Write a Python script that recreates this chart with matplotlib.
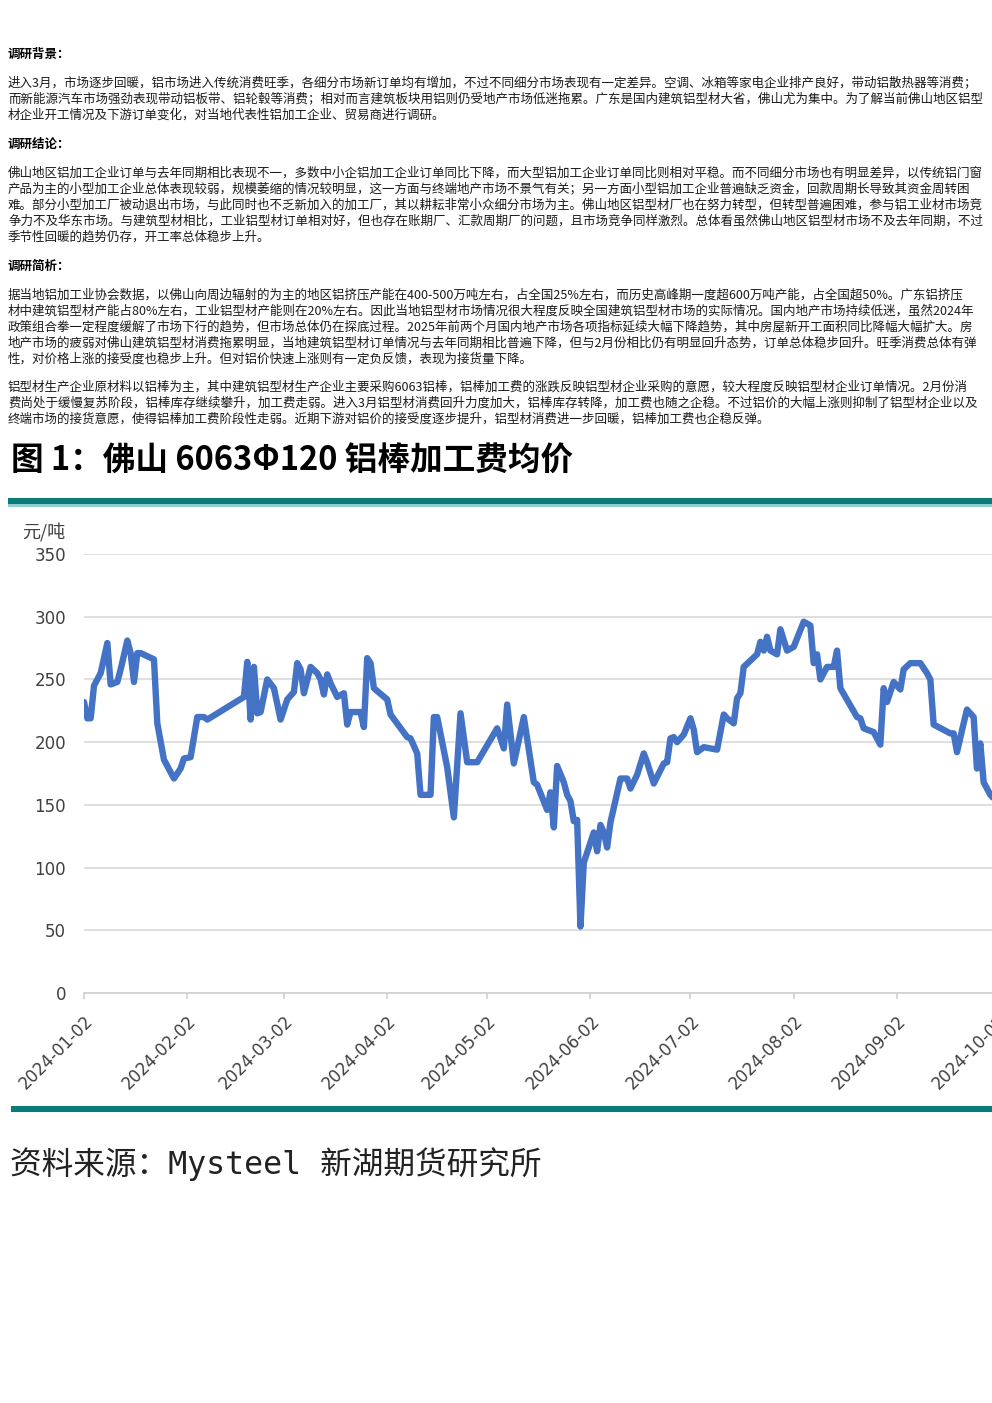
import datetime as dt
import matplotlib
matplotlib.use("Agg")
import matplotlib.pyplot as plt
import matplotlib.dates as mdates
from matplotlib.patches import Rectangle

plt.rcParams['font.family'] = ['Noto Sans CJK SC', 'DejaVu Sans']

W, H = 992, 1403

# page text
heading_bg = "调研背景："
text_bg = [
    "进入3月，市场逐步回暖，铝市场进入传统消费旺季，各细分市场新订单均有增加，不过不同细分市场表现有一定差异。空调、冰箱等家电企业排产良好，带动铝散热器等消费；",
    "而新能源汽车市场强劲表现带动铝板带、铝轮毂等消费；相对而言建筑板块用铝则仍受地产市场低迷拖累。广东是国内建筑铝型材大省，佛山尤为集中。为了解当前佛山地区铝型",
    "材企业开工情况及下游订单变化，对当地代表性铝加工企业、贸易商进行调研。",
]
heading_concl = "调研结论："
text_concl = [
    "佛山地区铝加工企业订单与去年同期相比表现不一，多数中小企铝加工企业订单同比下降，而大型铝加工企业订单同比则相对平稳。而不同细分市场也有明显差异，以传统铝门窗",
    "产品为主的小型加工企业总体表现较弱，规模萎缩的情况较明显，这一方面与终端地产市场不景气有关；另一方面小型铝加工企业普遍缺乏资金，回款周期长导致其资金周转困",
    "难。部分小型加工厂被动退出市场，与此同时也不乏新加入的加工厂，其以耕耘非常小众细分市场为主。佛山地区铝型材厂也在努力转型，但转型普遍困难，参与铝工业材市场竞",
    "争力不及华东市场。与建筑型材相比，工业铝型材订单相对好，但也存在账期厂、汇款周期厂的问题，且市场竞争同样激烈。总体看虽然佛山地区铝型材市场不及去年同期，不过",
    "季节性回暖的趋势仍存，开工率总体稳步上升。",
]
heading_anal = "调研简析："
text_anal = [
    "据当地铝加工业协会数据，以佛山向周边辐射的为主的地区铝挤压产能在400-500万吨左右，占全国25%左右，而历史高峰期一度超600万吨产能，占全国超50%。广东铝挤压",
    "材中建筑铝型材产能占80%左右，工业铝型材产能则在20%左右。因此当地铝型材市场情况很大程度反映全国建筑铝型材市场的实际情况。国内地产市场持续低迷，虽然2024年",
    "政策组合拳一定程度缓解了市场下行的趋势，但市场总体仍在探底过程。2025年前两个月国内地产市场各项指标延续大幅下降趋势，其中房屋新开工面积同比降幅大幅扩大。房",
    "地产市场的疲弱对佛山建筑铝型材消费拖累明显，当地建筑铝型材订单情况与去年同期相比普遍下降，但与2月份相比仍有明显回升态势，订单总体稳步回升。旺季消费总体有弹",
    "性，对价格上涨的接受度也稳步上升。但对铝价快速上涨则有一定负反馈，表现为接货量下降。",
]
text_anal2 = [
    "铝型材生产企业原材料以铝棒为主，其中建筑铝型材生产企业主要采购6063铝棒，铝棒加工费的涨跌反映铝型材企业采购的意愿，较大程度反映铝型材企业订单情况。2月份消",
    "费尚处于缓慢复苏阶段，铝棒库存继续攀升，加工费走弱。进入3月铝型材消费回升力度加大，铝棒库存转降，加工费也随之企稳。不过铝价的大幅上涨则抑制了铝型材企业以及",
    "终端市场的接货意愿，使得铝棒加工费阶段性走弱。近期下游对铝价的接受度逐步提升，铝型材消费进一步回暖，铝棒加工费也企稳反弹。",
]
chart_title = "图 1：佛山 6063Φ120 铝棒加工费均价"
unit_label = "元/吨"
source_note = "资料来源：Mysteel 新湖期货研究所"

# chart data
dates = [
    "2024-01-02", "2024-01-03", "2024-01-04", "2024-01-05", "2024-01-07", "2024-01-09",
    "2024-01-10", "2024-01-12", "2024-01-13", "2024-01-15", "2024-01-16", "2024-01-17",
    "2024-01-18", "2024-01-19", "2024-01-23", "2024-01-24", "2024-01-26", "2024-01-29",
    "2024-01-31", "2024-02-01", "2024-02-03", "2024-02-05", "2024-02-07", "2024-02-08",
    "2024-02-19", "2024-02-20", "2024-02-21", "2024-02-22", "2024-02-23", "2024-02-24",
    "2024-02-26", "2024-02-28", "2024-03-01", "2024-03-03", "2024-03-05", "2024-03-06",
    "2024-03-07", "2024-03-08", "2024-03-10", "2024-03-12", "2024-03-13", "2024-03-14",
    "2024-03-15", "2024-03-16", "2024-03-18", "2024-03-20", "2024-03-21", "2024-03-22",
    "2024-03-25", "2024-03-26", "2024-03-27", "2024-03-28", "2024-03-29", "2024-04-02",
    "2024-04-03", "2024-04-08", "2024-04-09", "2024-04-11", "2024-04-12", "2024-04-15",
    "2024-04-16", "2024-04-17", "2024-04-20", "2024-04-22", "2024-04-24", "2024-04-26",
    "2024-04-29", "2024-05-05", "2024-05-07", "2024-05-08", "2024-05-10", "2024-05-13",
    "2024-05-16", "2024-05-17", "2024-05-20", "2024-05-21", "2024-05-22", "2024-05-23",
    "2024-05-25", "2024-05-26", "2024-05-27", "2024-05-28", "2024-05-29", "2024-05-30",
    "2024-05-31", "2024-06-02", "2024-06-03", "2024-06-04", "2024-06-05", "2024-06-06",
    "2024-06-07", "2024-06-08", "2024-06-11", "2024-06-13", "2024-06-14", "2024-06-16",
    "2024-06-18", "2024-06-19", "2024-06-21", "2024-06-24", "2024-06-25", "2024-06-26",
    "2024-06-27", "2024-06-28", "2024-06-30", "2024-07-02", "2024-07-03", "2024-07-04",
    "2024-07-06", "2024-07-10", "2024-07-12", "2024-07-13", "2024-07-15", "2024-07-16",
    "2024-07-17", "2024-07-18", "2024-07-20", "2024-07-22", "2024-07-23", "2024-07-24",
    "2024-07-25", "2024-07-26", "2024-07-28", "2024-07-29", "2024-07-31", "2024-08-02",
    "2024-08-05", "2024-08-07", "2024-08-08", "2024-08-09", "2024-08-10", "2024-08-12",
    "2024-08-14", "2024-08-15", "2024-08-16", "2024-08-21", "2024-08-22", "2024-08-23",
    "2024-08-26", "2024-08-28", "2024-08-29", "2024-08-30", "2024-09-01", "2024-09-03",
    "2024-09-04", "2024-09-06", "2024-09-09", "2024-09-11", "2024-09-12", "2024-09-13",
    "2024-09-18", "2024-09-19", "2024-09-20", "2024-09-22", "2024-09-23", "2024-09-25",
    "2024-09-26", "2024-09-27", "2024-09-28", "2024-09-30", "2024-10-03",
]
fee = [
    232, 219, 219, 245, 255, 279,
    246, 248, 258, 281, 271, 248,
    271, 271, 266, 215, 186, 171,
    179, 187, 188, 220, 220, 218,
    236, 264, 218, 260, 223, 224,
    250, 243, 218, 234, 240, 263,
    258, 239, 260, 255, 250, 238,
    254, 247, 236, 239, 214, 224,
    224, 212, 267, 263, 243, 234,
    222, 204, 203, 191, 158, 158,
    220, 220, 180, 140, 223, 184,
    184, 211, 195, 230, 183, 220,
    168, 166, 146, 160, 132, 181,
    168, 158, 153, 137, 138, 53,
    104, 120, 128, 113, 134, 128,
    116, 136, 171, 171, 163, 174,
    191, 184, 167, 183, 184, 203,
    204, 200, 206, 219, 210, 192,
    196, 194, 222, 219, 215, 235,
    239, 260, 265, 270, 280, 273,
    284, 273, 270, 290, 273, 276,
    296, 293, 263, 270, 250, 260,
    260, 273, 243, 220, 219, 211,
    208, 198, 243, 232, 248, 242,
    258, 263, 263, 255, 250, 214,
    207, 207, 192, 215, 226, 220,
    179, 199, 168, 158, 150,
]
y_ticks = [0, 50, 100, 150, 200, 250, 300, 350]

x = [dt.datetime.strptime(d, "%Y-%m-%d") for d in dates]


def fx(px):
    return px / W


def fy(py):
    return 1 - py / H


fig = plt.figure(figsize=(W / 100, H / 100), dpi=100)
fig.patch.set_facecolor('white')

body_color = '#1a1a1a'
body_size = 9.0


def block(heading, head_y, lines, first_y):
    if heading:
        fig.text(fx(8), fy(head_y), heading, fontsize=body_size, fontweight='bold',
                 color='black', va='center', ha='left')
    for i, line in enumerate(lines):
        fig.text(fx(8), fy(first_y + 16 * i), line, fontsize=body_size,
                 color=body_color, va='center', ha='left')


block(heading_bg, 54, text_bg, 83)
block(heading_concl, 144, text_concl, 173)
block(heading_anal, 266, text_anal, 295)
block(None, 0, text_anal2, 387)

# figure title and bands
fig.text(fx(11), fy(461), chart_title, fontsize=23.5, fontweight='bold',
         color='black', va='center', ha='left')
fig.add_artist(Rectangle((fx(8), fy(504)), fx(992) - fx(8), (504 - 498) / H,
                         transform=fig.transFigure, color='#0b7b7a', lw=0))
fig.add_artist(Rectangle((fx(8), fy(507)), fx(992) - fx(8), 3 / H,
                         transform=fig.transFigure, color='#8fd0cf', lw=0))
fig.add_artist(Rectangle((fx(11), fy(1112)), fx(992) - fx(11), 6 / H,
                         transform=fig.transFigure, color='#0b7b7a', lw=0))

fig.text(fx(10), fy(1164), source_note, fontsize=22.8, color='#222222',
         va='center', ha='left', family=['DejaVu Sans Mono', 'Noto Sans CJK SC'])

fig.text(fx(22), fy(532), unit_label, fontsize=13, color='#404040',
         va='center', ha='left')

# chart axes (right edge runs past the page, as in the source)
x_end = dt.datetime(2024, 10, 10)
px_per_day = 3.332
right_px = 84 + (x_end - x[0]).days * px_per_day
ax = fig.add_axes([fx(84), fy(993), (right_px - 84) / W, (993 - 554) / H])
ax.plot(x, fee, color='#4472C4', lw=4.6, solid_joinstyle='round', solid_capstyle='round')

ax.set_xlim(x[0], x_end)
ax.set_ylim(0, 350)
ax.set_yticks(y_ticks)
ax.yaxis.grid(True, color='#d9d9d9', lw=1.2)
ax.set_axisbelow(True)
for s in ['top', 'right', 'left']:
    ax.spines[s].set_visible(False)
ax.spines['bottom'].set_color('#d0d0d0')
ax.spines['bottom'].set_linewidth(1.2)

ax.xaxis.set_major_locator(mdates.MonthLocator(bymonthday=2))
ax.xaxis.set_major_formatter(mdates.DateFormatter('%Y-%m-%d'))
ax.tick_params(axis='x', length=4, width=1.2, color='#d0d0d0', pad=10,
               labelsize=12, labelcolor='#404040')
ax.tick_params(axis='y', length=0, pad=13, labelsize=12, labelcolor='#404040')
for lab in ax.get_xticklabels():
    lab.set_rotation(45)
    lab.set_ha('right')
    lab.set_va('top')
    lab.set_rotation_mode('anchor')
    lab.set_family('DejaVu Sans')
for lab in ax.get_yticklabels():
    lab.set_family('DejaVu Sans')

fig.savefig('out.png', dpi=100, facecolor='white')
